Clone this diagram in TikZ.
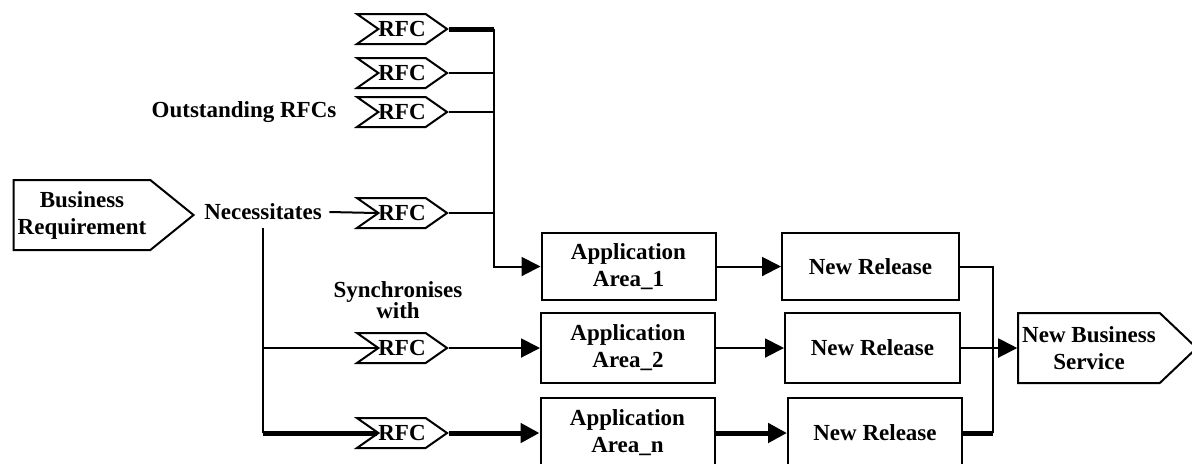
\documentclass[tikz,border=0pt]{standalone}
\usepackage{fontspec}
\setmainfont{Liberation Serif}
\usetikzlibrary{arrows.meta,positioning,shapes.symbols}

\begin{document}
\begin{tikzpicture}[x=0.5pt,y=-0.5pt,
  font=\fontsize{11.5}{13.5}\selectfont\bfseries,
  line width=1pt,
  box/.style={draw,align=center,minimum width=87pt,minimum height=35pt,inner sep=2pt},
  rfc/.style={draw,signal,signal from=west,signal to=east,signal pointer angle=70,
              minimum width=45pt,minimum height=15pt,inner sep=0pt},
  tag/.style={draw,signal,signal to=east,align=center,minimum height=35pt,inner sep=2pt},
  ar/.style={-{Triangle[length=9.5pt,width=9.5pt]}},
  thk/.style={line width=2.5pt}]
\useasboundingbox (0,0) rectangle (1192,463);
% requirement and the RFCs it raises
\node[tag,signal pointer angle=78,minimum width=88.5pt] (br) at (82,215) {Business\\Requirement};
\node (nec) at (263,212) {Necessitates};
\node (out) at (244,112) {Outstanding RFCs};
\node[align=center] (syn) at (398,300) {Synchronises\\[-3pt]with};
\node[rfc] (rfcA) at (402,29) {RFC};
\node[rfc] (rfcB) at (402,73) {RFC};
\node[rfc] (rfcC) at (402,112) {RFC};
\node[rfc] (rfcD) at (402,213) {RFC};
\node[rfc] (rfcE) at (402,348) {RFC};
\node[rfc] (rfcF) at (402,433) {RFC};
% application areas and releases
\node[box,minimum height=33.5pt] (app1) at (628.5,266.5) {Application\\Area\_1};
\node[box] (app2) at (628,348) {Application\\Area\_2};
\node[box] (appn) at (627.5,433) {Application\\Area\_n};
\node[box,minimum width=88.5pt,minimum height=33.5pt] (nr1) at (870.5,266.5) {New Release};
\node[box,minimum width=87.5pt] (nr2) at (872.5,348) {New Release};
\node[box] (nr3) at (875,433) {New Release};
\node[tag,signal pointer angle=87,minimum width=85pt] (nbs) at (1089,348) {New Business\\Service};
\coordinate (busT) at (494,29);
\coordinate (busR) at (993,433);
% connectors
\draw[thk] (rfcA.east) -- (busT);
\foreach \r in {rfcB,rfcC,rfcD} \draw (\r.east) -- (\r.east -| busT);
\draw[ar] (busT) |- (app1.west);
\draw (nec.east) -- (rfcD.west);
\draw (nec.south) |- (rfcE.west);
\draw (nec.south) -- (nec.south |- rfcF.west);
\draw[thk] (nec.south |- rfcF.west) -- (rfcF.west);
\draw[ar] (rfcE.east) -- (app2.west);
\draw[ar,thk] (rfcF.east) -- (appn.west);
\draw[ar] (app1.east) -- (nr1.west);
\draw[ar] (app2.east) -- (nr2.west);
\draw[ar,thk] (appn.east) -- (nr3.west);
\draw (nr1.east) -| (busR);
\draw[thk] (nr3.east) -- (busR);
\draw[ar] (nr2.east) -- (nbs.west);
\end{tikzpicture}
\end{document}
